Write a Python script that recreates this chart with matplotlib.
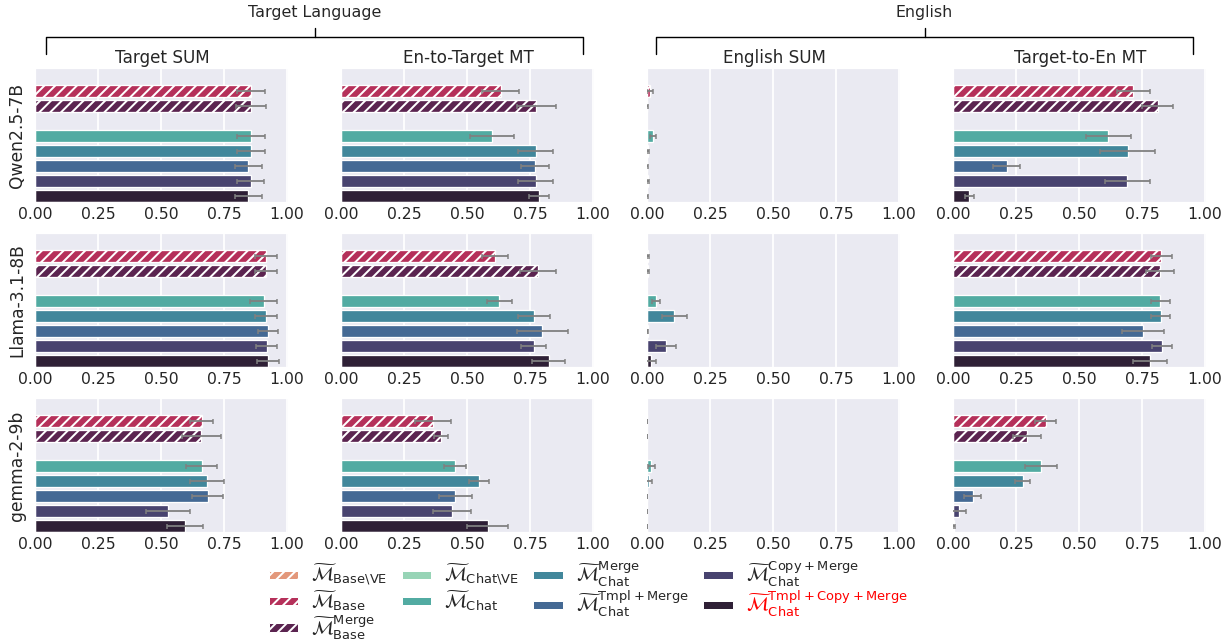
import numpy as np
import matplotlib
matplotlib.use("Agg")
import matplotlib.pyplot as plt
import seaborn as sns
from matplotlib.patches import Patch
from matplotlib.lines import Line2D

# Figure geometry (pixels) - reference is 1231x640
W, H = 1231, 640
DPI = 130

nan = np.nan

MODELS = ["Qwen2.5-7B", "Llama-3.1-8B", "gemma-2-9b"]
TASKS = ["Target SUM", "En-to-Target MT", "English SUM", "Target-to-En MT"]
METHODS = [
    r"$\widetilde{\mathcal{M}}_{\mathrm{Base\backslash VE}}$",
    r"$\widetilde{\mathcal{M}}_{\mathrm{Base}}$",
    r"$\widetilde{\mathcal{M}}^{\mathrm{Merge}}_{\mathrm{Base}}$",
    r"$\widetilde{\mathcal{M}}_{\mathrm{Chat\backslash VE}}$",
    r"$\widetilde{\mathcal{M}}_{\mathrm{Chat}}$",
    r"$\widetilde{\mathcal{M}}^{\mathrm{Merge}}_{\mathrm{Chat}}$",
    r"$\widetilde{\mathcal{M}}^{\mathrm{Tmpl+Merge}}_{\mathrm{Chat}}$",
    r"$\widetilde{\mathcal{M}}^{\mathrm{Copy+Merge}}_{\mathrm{Chat}}$",
    r"$\widetilde{\mathcal{M}}^{\mathrm{Tmpl+Copy+Merge}}_{\mathrm{Chat}}$",
]
COLORS = ["#e3977a", "#b5305a", "#5b2450", "#97d4b6", "#52aba2",
          "#41879b", "#446994", "#48436f", "#2f2036"]
HATCHED = [True, True, True, False, False, False, False, False, False]

# scores per task (rows follow TASKS), columns follow METHODS
QWEN_MEAN = [
    [nan, .858, .857, nan, .857, .857, .847, .856, .847],
    [nan, .633, .775, nan, .598, .772, .770, .772, .786],
    [nan, .011, .000, nan, .025, .003, .000, .003, .000],
    [nan, .716, .812, nan, .616, .694, .213, .691, .065],
]
QWEN_ERR = [
    [nan, .055, .060, nan, .055, .057, .054, .054, .055],
    [nan, .074, .078, nan, .088, .070, .054, .070, .041],
    [nan, .012, .002, nan, .012, .004, .002, .004, .002],
    [nan, .064, .062, nan, .089, .109, .054, .089, .019],
]
LLAMA_MEAN = [
    [nan, .916, .916, nan, .907, .918, .924, .919, .924],
    [nan, .611, .783, nan, .628, .767, .799, .764, .824],
    [nan, .003, .003, nan, .036, .109, .002, .076, .016],
    [nan, .826, .823, nan, .823, .824, .755, .828, .781],
]
LLAMA_ERR = [
    [nan, .043, .043, nan, .052, .043, .041, .043, .044],
    [nan, .050, .071, nan, .049, .064, .100, .049, .066],
    [nan, .004, .004, nan, .016, .051, .003, .039, .018],
    [nan, .042, .056, nan, .038, .039, .084, .040, .067],
]
GEMMA_MEAN = [
    [nan, .661, .660, nan, .661, .682, .685, .527, .595],
    [nan, .364, .396, nan, .453, .547, .453, .440, .582],
    [nan, .000, .000, nan, .017, .008, .000, .000, .000],
    [nan, .368, .295, nan, .349, .276, .078, .025, .003],
]
GEMMA_ERR = [
    [nan, .045, .078, nan, .062, .068, .061, .088, .073],
    [nan, .071, .028, nan, .043, .040, .066, .074, .081],
    [nan, .001, .001, nan, .015, .012, .001, .001, .001],
    [nan, .042, .055, nan, .063, .028, .033, .027, .004],
]
MEANS = [QWEN_MEAN, LLAMA_MEAN, GEMMA_MEAN]
ERRS = [QWEN_ERR, LLAMA_ERR, GEMMA_ERR]

GROUPS = ["Target Language", "English"]
XTICKS = [0.0, 0.25, 0.5, 0.75, 1.0]
HATCH = "////"


def px2pt(px):
    return px * 72.0 / DPI


sns.set_theme(style="darkgrid")
plt.rcParams["font.family"] = ["DejaVu Sans"]
plt.rcParams["hatch.color"] = "white"
plt.rcParams["hatch.linewidth"] = 1.1

fig = plt.figure(figsize=(W / DPI, H / DPI), dpi=DPI)

col_left = [35, 341, 647, 953]
row_top = [68, 233, 398]
ax_w, ax_h = 254, 135

ypos = np.arange(len(METHODS))
for r, model in enumerate(MODELS):
    for c, task in enumerate(TASKS):
        ax = fig.add_axes([col_left[c] / W, 1 - (row_top[r] + ax_h) / H, ax_w / W, ax_h / H])
        vals = np.array(MEANS[r][c])
        errs = np.array(ERRS[r][c])
        for i in range(len(METHODS)):
            if np.isnan(vals[i]):
                continue
            ax.barh(ypos[i], vals[i], height=0.8, color=COLORS[i],
                    edgecolor="white", linewidth=px2pt(1.3),
                    hatch=HATCH if HATCHED[i] else None, zorder=2)
            ax.errorbar(vals[i], ypos[i], xerr=errs[i], fmt="none", ecolor="#808080",
                        elinewidth=px2pt(1.8), capsize=px2pt(2.5), capthick=px2pt(1.5),
                        zorder=3)
        ax.set_xlim(0, 1.008)
        ax.set_ylim(len(METHODS) - 0.5, -0.5)
        ax.set_yticks([])
        ax.set_xticks(XTICKS)
        ax.set_xticklabels([f"{t:.2f}" for t in XTICKS], fontsize=8.7)
        ax.tick_params(axis="x", pad=2, length=0)
        ax.grid(axis="y", visible=False)
        ax.grid(axis="x", color="white", linewidth=px2pt(1.8))
        if r == 0:
            ax.set_title(task, fontsize=9.3, pad=3)
        if c == 0:
            ax.set_ylabel(model, fontsize=9.5, labelpad=5)

# group headers with brackets
brackets = [(46, 583), (656, 1193)]
for name, (x0, x1) in zip(GROUPS, brackets):
    xm = (x0 + x1) / 2
    fig.text(xm / W, 1 - 12 / H, name, ha="center", va="center", fontsize=8.8)
    xs = [x0, x0, x1, x1]
    ys = [54, 37, 37, 54]
    fig.add_artist(Line2D([x / W for x in xs], [1 - y / H for y in ys],
                          color="black", linewidth=px2pt(1.4)))
    fig.add_artist(Line2D([xm / W, xm / W], [1 - 28 / H, 1 - 37 / H],
                          color="black", linewidth=px2pt(1.4)))

handles = [Patch(facecolor=COLORS[i], edgecolor="white", linewidth=px2pt(1.0),
                 hatch=HATCH if HATCHED[i] else None) for i in range(len(METHODS))]
leg = fig.legend(handles, METHODS, ncol=4, loc="upper left",
                 bbox_to_anchor=(265 / W, 1 - 556 / H), frameon=False,
                 fontsize=10.3, handlelength=1.6, handleheight=0.35,
                 handletextpad=0.7, columnspacing=0.75, labelspacing=0.0,
                 borderaxespad=0, borderpad=0.2)
leg.get_texts()[-1].set_color("red")

fig.savefig("out.png", dpi=DPI)
